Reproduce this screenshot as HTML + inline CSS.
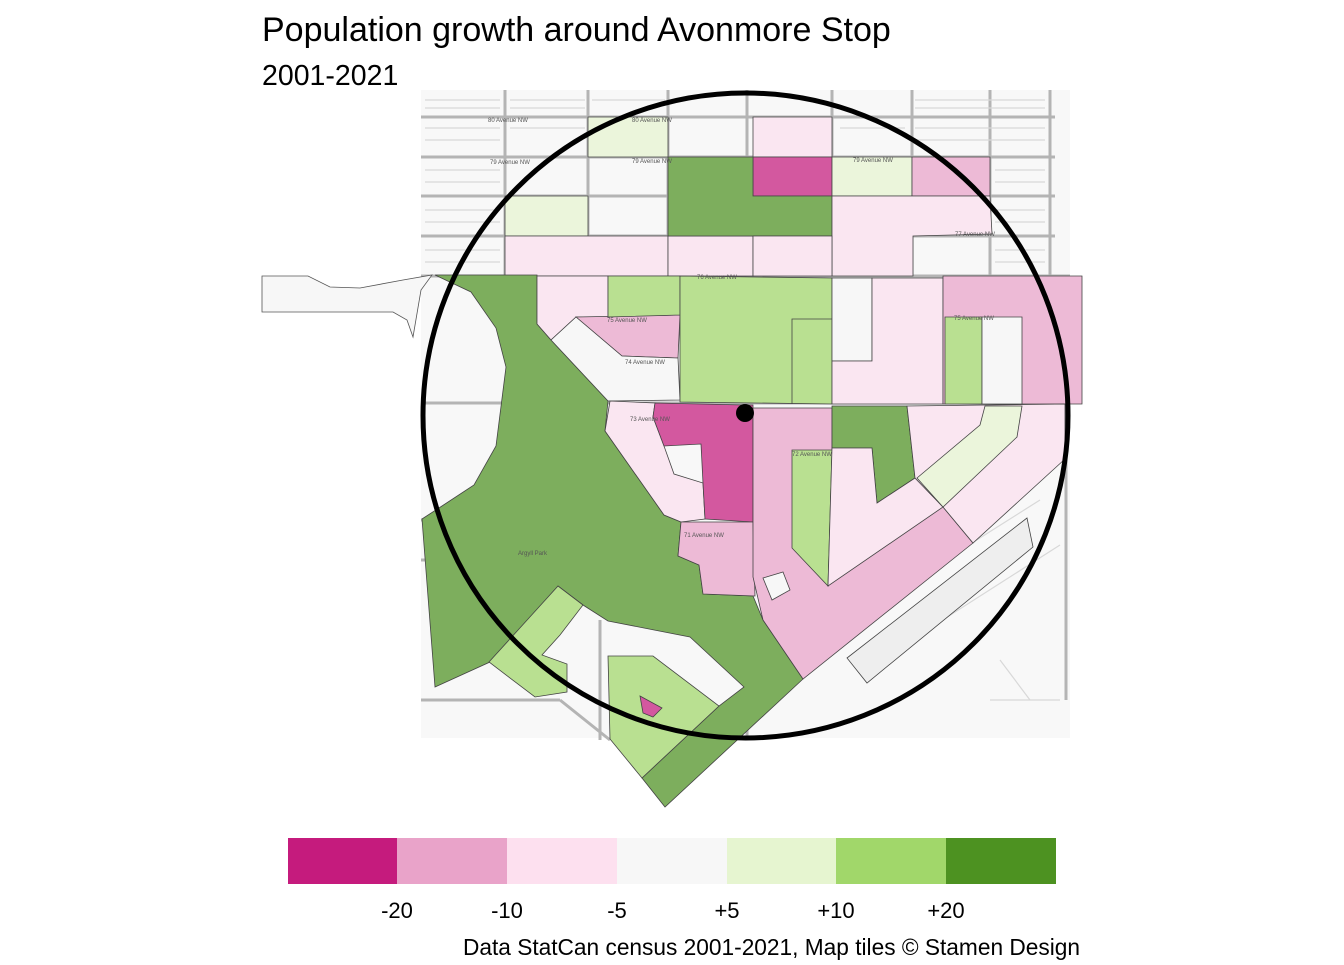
<!DOCTYPE html>
<html><head><meta charset="utf-8"><style>
body{margin:0;background:#fff;width:1344px;height:960px;overflow:hidden;font-family:"Liberation Sans",sans-serif}
</style></head><body>
<svg width="1344" height="960" xmlns="http://www.w3.org/2000/svg" font-family="Liberation Sans, sans-serif">
<rect width="1344" height="960" fill="#fff"/>
<text x="262" y="41" font-size="34" fill="#000">Population growth around Avonmore Stop</text>
<text x="262" y="85" font-size="28.5" fill="#000">2001-2021</text>
<rect x="421" y="90" width="649" height="648" fill="#f8f8f8"/>
<g stroke="#b4b4b4" stroke-width="3" fill="none">
<path d="M421 117H1055M421 157H1055M421 196H1055M421 236H1055M421 276H1070M421 403H1070"/>
<path d="M505 90V276M588 90V276M668 90V276M747 90V740M832 90V276M912 90V276M990 90V276M1050 90V276M1066 276V700"/>
<path d="M421 520H480M421 560H470M421 700H560M560 700L610 740M600 620V740"/>
</g>
<g stroke="#d8d8d8" stroke-width="1.2" fill="none">
<path d="M425 100H500M425 108H500M510 100H585M510 108H585M592 100H665M915 100H1045M915 108H1045M840 128H905M915 128H1045M915 140H1045M425 128H500M425 140H500M510 128H585M425 170H500M425 182H500M915 170H990M995 170H1045M995 182H1045M425 210H500M425 222H500M995 210H1045M995 222H1045M995 250H1045M995 262H1045M425 250H500M425 262H500"/>
<path d="M850 620L1040 500M880 660L1060 545M1000 660L1030 700M990 700H1060"/>
</g>
<polygon points="262,276 308,276 330,287 360,288 403,280 432,275 421,290 413,337 407,320 393,312 262,312" fill="#f7f7f7" stroke="#555" stroke-width="0.8"/>
<g stroke="#444" stroke-width="0.8">
<polygon points="588,117 668,117 668,157 588,157" fill="#ebf5db"/>
<polygon points="505,196 588,196 588,236 505,236" fill="#ebf5db"/>
<polygon points="505,236 668,236 668,276 505,276" fill="#fae6f1"/>
<polygon points="668,236 753,236 753,276 668,276" fill="#fae6f1"/>
<polygon points="753,117 832,117 832,157 753,157" fill="#fae6f1"/>
<polygon points="753,157 832,157 832,196 753,196" fill="#d3589f"/>
<polygon points="668,157 753,157 753,196 832,196 832,236 753,236 668,236" fill="#7dae5d"/>
<polygon points="832,157 912,157 912,196 832,196" fill="#ebf5db"/>
<polygon points="912,157 990,157 990,196 912,196" fill="#edbad6"/>
<polygon points="832,196 990,196 992,234 913,236 913,276 832,276" fill="#fae6f1"/>
<polygon points="753,236 832,236 832,276 753,276" fill="#fae6f1"/>
<polygon points="435,275 537,275 537,324 551,340 608,401 605,431 664,515 681,522 678,556 699,565 703,594 753,596 763,620 803,679 665,807 642,778 719,706 744,687 690,637 608,621 583,605 558,586 490,662 435,687 422,519 442,506 474,485 496,446 506,367 496,328 471,292" fill="#7dae5d"/>
<polygon points="642,778 610,739 608,656 653,656 719,706" fill="#b9e091"/>
<polygon points="558,586 583,605 560,635 542,655 567,664 567,692 535,697 489,662" fill="#b9e091"/>
<polygon points="640,696 662,708 653,717 643,713" fill="#d3589f"/>
<polygon points="537,276 608,276 608,317 576,317 551,340 537,324" fill="#fae6f1"/>
<polygon points="576,317 680,315 678,358 622,356" fill="#edbad6"/>
<polygon points="576,317 622,356 678,358 680,400 608,401 551,340" fill="#f7f7f7"/>
<polygon points="608,276 680,276 680,315 608,317" fill="#b9e091"/>
<polygon points="680,276 832,278 832,404 680,402" fill="#b9e091"/>
<polyline points="792,404 792,319 832,319" fill="none"/>
<polygon points="832,278 872,278 872,361 832,361" fill="#f7f7f7"/>
<polygon points="872,278 943,278 943,404 832,404 832,361 872,361" fill="#fae6f1"/>
<polygon points="943,276 1082,276 1082,404 943,404" fill="#edbad6"/>
<polygon points="945,317 982,317 982,404 945,404" fill="#b9e091"/>
<polygon points="982,317 1022,317 1022,404 982,404" fill="#f7f7f7"/>
<polygon points="610,401 655,403 653,417 664,446 674,474 703,483 705,519 681,522 664,515 605,431" fill="#fae6f1"/>
<polygon points="655,403 744,405 753,405 753,522 705,519 703,483 701,444 664,446 653,417" fill="#d3589f"/>
<polygon points="681,522 753,522 755,596 703,594 699,565 678,556" fill="#edbad6"/>
<polygon points="753,408 832,408 832,450 943,507 973,543 803,679 763,620 753,577" fill="#edbad6"/>
<polygon points="792,450 832,450 828,586 792,548" fill="#b9e091"/>
<polygon points="832,406 907,406 915,478 877,503 872,448 832,448" fill="#7dae5d"/>
<polygon points="832,448 872,448 877,503 915,478 943,507 828,586" fill="#fae6f1"/>
<polygon points="907,406 1065,404 1065,459 973,543 943,507 915,478" fill="#fae6f1"/>
<polygon points="985,406 1022,406 1017,437 943,507 917,478 980,425" fill="#ebf5db"/>
<polygon points="763,578 783,572 790,590 772,600" fill="#f7f7f7"/>
<polygon points="847,658 1027,518 1033,547 867,683" fill="#eeeeee"/>
</g>
<g font-size="6" fill="#555">
<text x="488" y="122">80 Avenue NW</text><text x="632" y="122">80 Avenue NW</text>
<text x="490" y="164">79 Avenue NW</text><text x="632" y="163">79 Avenue NW</text><text x="853" y="162">79 Avenue NW</text>
<text x="697" y="279">76 Avenue NW</text><text x="607" y="322">75 Avenue NW</text><text x="625" y="364">74 Avenue NW</text>
<text x="630" y="421">73 Avenue NW</text><text x="684" y="537">71 Avenue NW</text><text x="792" y="456">72 Avenue NW</text>
<text x="954" y="320">75 Avenue NW</text><text x="955" y="236">77 Avenue NW</text><text x="518" y="555">Argyll Park</text>
</g>
<circle cx="745.5" cy="415.5" r="322.5" fill="none" stroke="#000" stroke-width="5"/>
<circle cx="745" cy="413" r="9" fill="#000"/>
<rect x="288" y="838" width="110" height="46" fill="#c51b7d"/>
<rect x="397" y="838" width="110" height="46" fill="#e9a3c9"/>
<rect x="507" y="838" width="110" height="46" fill="#fde0ef"/>
<rect x="617" y="838" width="110" height="46" fill="#f7f7f7"/>
<rect x="727" y="838" width="110" height="46" fill="#e6f5d0"/>
<rect x="836" y="838" width="110" height="46" fill="#a1d76a"/>
<rect x="946" y="838" width="110" height="46" fill="#4d9221"/>
<g font-size="22" text-anchor="middle" fill="#000">
<text x="397" y="918">-20</text><text x="507" y="918">-10</text><text x="617" y="918">-5</text>
<text x="727" y="918">+5</text><text x="836" y="918">+10</text><text x="946" y="918">+20</text>
</g>
<text x="1080" y="955" font-size="22.7" text-anchor="end" fill="#000">Data StatCan census 2001-2021, Map tiles © Stamen Design</text>
</svg>
</body></html>
